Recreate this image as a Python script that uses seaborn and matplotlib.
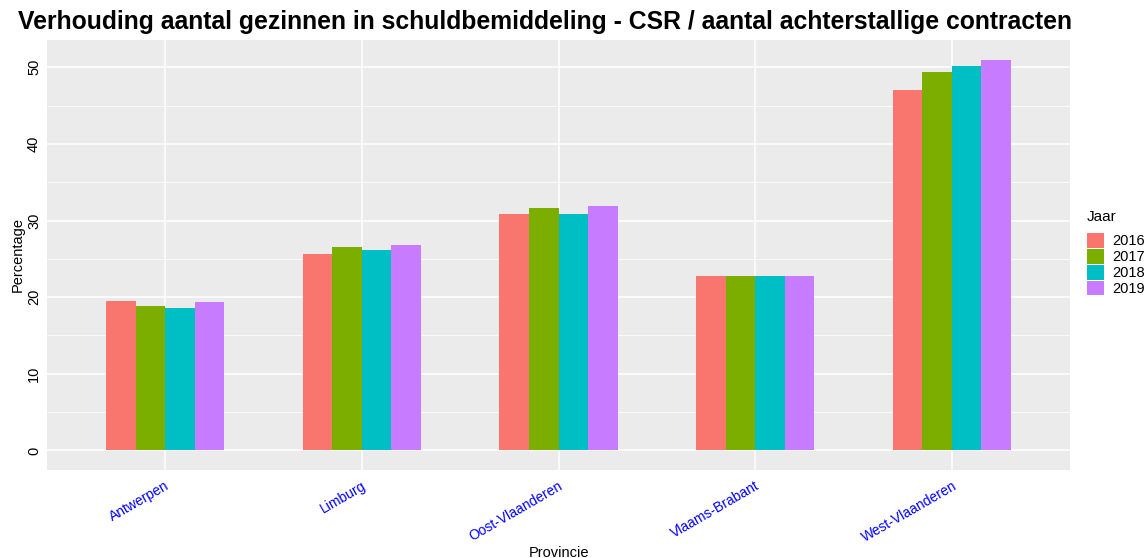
import matplotlib
matplotlib.use("Agg")
import matplotlib.pyplot as plt
import seaborn as sns
import pandas as pd
from matplotlib.ticker import MultipleLocator

provincies = ["Antwerpen", "Limburg", "Oost-Vlaanderen", "Vlaams-Brabant", "West-Vlaanderen"]
jaren = ["2016", "2017", "2018", "2019"]
v2016 = [19.5, 25.6, 30.9, 22.7, 47.0]
v2017 = [18.9, 26.5, 31.6, 22.8, 49.4]
v2018 = [18.6, 26.2, 30.9, 22.8, 50.1]
v2019 = [19.4, 26.8, 31.9, 22.7, 51.0]
kleuren = ["#F8766D", "#7CAE00", "#00BFC4", "#C77CFF"]

rows = []
for jaar, vals in zip(jaren, [v2016, v2017, v2018, v2019]):
    for p, v in zip(provincies, vals):
        rows.append({"Provincie": p, "Jaar": jaar, "Percentage": v})
df = pd.DataFrame(rows)

sns.set_style("white")
plt.rcParams['font.family'] = ['Liberation Sans', 'DejaVu Sans']
plt.rcParams['text.color'] = 'black'
plt.rcParams['axes.labelcolor'] = 'black'

fig = plt.figure(figsize=(11.48, 5.58), dpi=100)
L, R, T, B = 47, 1070, 40, 470
ax = fig.add_axes([L/1148, 1-B/558, (R-L)/1148, (B-T)/558])
ax.set_facecolor("#EBEBEB")

sns.barplot(data=df, x="Provincie", y="Percentage", hue="Jaar", order=provincies,
            hue_order=jaren, palette=kleuren, width=0.6, gap=0, saturation=1,
            errorbar=None, ax=ax, zorder=3, edgecolor="none", linewidth=0)

ax.set_xlim(-0.6, 4.6)
ax.set_ylim(-2.55, 53.55)
ax.yaxis.set_major_locator(MultipleLocator(10))
ax.yaxis.set_minor_locator(MultipleLocator(5))
ax.grid(which="major", color="white", linewidth=1.1, zorder=0)
ax.grid(which="minor", axis="y", color="white", linewidth=0.55, zorder=0)
ax.set_axisbelow(True)
for s in ax.spines.values():
    s.set_visible(False)

ax.tick_params(axis="both", which="major", length=2.75, width=0.8, color="#333333")
ax.tick_params(axis="y", which="minor", length=0)
ax.tick_params(axis="y", pad=1.5)
plt.setp(ax.get_yticklabels(), rotation=90, va="center", fontsize=10.5, color="black")
ax.set_xticks(range(len(provincies)))
ax.set_xticklabels(provincies, rotation=30, ha="right", rotation_mode="anchor",
                   fontsize=10, color="blue")

ax.set_xlabel("Provincie", fontsize=10.5, color="black")
ax.xaxis.set_label_coords(0.5, -(553-B)/(B-T), transform=ax.transAxes)
ax.xaxis.label.set_va("center")
ax.set_ylabel("Percentage", fontsize=10.5, color="black")
ax.yaxis.set_label_coords(-(L-18)/(R-L), 0.5, transform=ax.transAxes)
ax.yaxis.label.set_va("center")

fig.text(18/1148, 1-22/558, "Verhouding aantal gezinnen in schuldbemiddeling - CSR / aantal achterstallige contracten",
         fontsize=17.8, fontweight="bold", ha="left", va="center", color="black")

leg = ax.legend(title="Jaar", loc="center left", bbox_to_anchor=((1087-L)/(R-L), 0.505), borderaxespad=0,
                borderpad=0, frameon=False, fontsize=10.5, title_fontsize=11, handlelength=1.15,
                handleheight=1.15, handletextpad=0.6, labelspacing=0.05)
leg._legend_box.align = "left"
leg._legend_box.sep = 7

fig.savefig("out.png", dpi=100)
